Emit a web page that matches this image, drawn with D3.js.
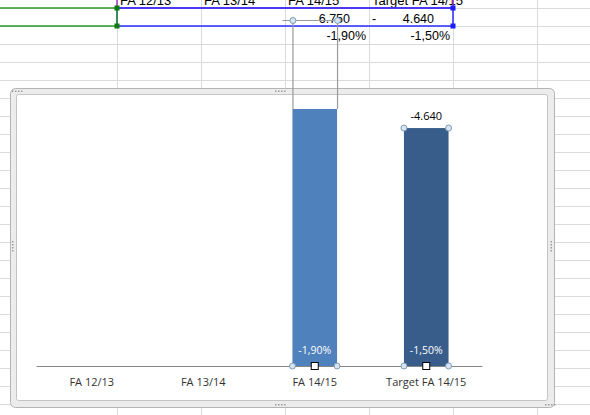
<!DOCTYPE html>
<html>
<head>
<meta charset="utf-8">
<script src="https://cdn.jsdelivr.net/npm/d3@7"></script>
<style>
  body { margin: 0; background: #fff; }
  svg { display: block; }
</style>
</head>
<body>
<script>
// chart data
var categories = ["FA 12/13", "FA 13/14", "FA 14/15", "Target FA 14/15"];
// plotted bar heights (first two columns are empty)
var barValues = [null, null, 6750, 6250];
// labels shown on the bars
var topLabels = ["", "", "", "-4.640"];
var pctLabels = ["", "", "-1,90%", "-1,50%"];
var barColors = ["#4F81BD", "#4F81BD", "#4F81BD", "#385D8A"];
// sheet cells behind the chart
var cellValues = ["", "", "6.750", "4.640"];
var cellPcts = ["", "", "-1,90%", "-1,50%"];

var width = 590, height = 415;

var svg = d3.select("body").append("svg")
    .attr("width", width)
    .attr("height", height);

// ---- spreadsheet grid ----
var colEdges = [117, 201, 285, 369, 453, 537];
var rowH = 18, rowTop = 8;
var grid = svg.append("g").attr("stroke", "#dadada").attr("stroke-width", 1);
for (var r = 0; rowTop + r * rowH < height; r++) {
    var yy = rowTop + r * rowH + 0.5;
    grid.append("line").attr("x1", 0).attr("x2", width).attr("y1", yy).attr("y2", yy);
}
colEdges.forEach(function (cx) {
    grid.append("line").attr("x1", cx + 0.5).attr("x2", cx + 0.5).attr("y1", 0).attr("y2", height);
});

// header row (scrolled so only its lower half shows)
var cellFont = "'Liberation Sans', Arial, sans-serif";
svg.append("g").selectAll("text")
    .data(categories)
    .enter().append("text")
    .attr("x", function (d, i) { return colEdges[i] + 3; })
    .attr("y", 5)
    .attr("font-family", cellFont)
    .attr("font-size", 13)
    .attr("fill", "#000")
    .text(function (d) { return d; });

// value row
svg.append("g").selectAll("text")
    .data(cellValues)
    .enter().append("text")
    .attr("x", function (d, i) { return colEdges[i + 1] - 19; })
    .attr("y", 23)
    .attr("text-anchor", "end")
    .attr("font-family", cellFont)
    .attr("font-size", 12.5)
    .text(function (d) { return d; });
svg.append("text")
    .attr("x", 372).attr("y", 23)
    .attr("font-family", cellFont).attr("font-size", 12.5)
    .text("-");

// percent row
svg.append("g").selectAll("text")
    .data(cellPcts)
    .enter().append("text")
    .attr("x", function (d, i) { return colEdges[i + 1] - 3; })
    .attr("y", 40)
    .attr("text-anchor", "end")
    .attr("font-family", cellFont)
    .attr("font-size", 12.5)
    .text(function (d) { return d; });

// range highlights
svg.append("rect").attr("x", 117).attr("y", -5).attr("width", 336).attr("height", 13)
    .attr("fill", "none").attr("stroke", "#9933cc").attr("stroke-width", 1.5);
svg.append("rect").attr("x", 117).attr("y", 8).attr("width", 336).attr("height", 18)
    .attr("fill", "none").attr("stroke", "#2b2bff").attr("stroke-width", 1.5);
svg.append("path").attr("d", "M0,8H117V26H0")
    .attr("fill", "none").attr("stroke", "#2e9b2e").attr("stroke-width", 1.5);
[[117, 8, "#0a7a0a"], [117, 26, "#0a7a0a"], [453, 8, "#1d1dff"], [453, 26, "#1d1dff"]].forEach(function (p) {
    svg.append("rect").attr("x", p[0] - 2.5).attr("y", p[1] - 2.5).attr("width", 5).attr("height", 5).attr("fill", p[2]);
});

// ---- chart frame ----
var frame = svg.append("g");
frame.append("rect").attr("x", 10.5).attr("y", 88.5).attr("width", 544).attr("height", 319).attr("rx", 5)
    .attr("fill", "#ececec").attr("stroke", "#b4b4b4");
frame.append("rect").attr("x", 16.5).attr("y", 94.5).attr("width", 531).attr("height", 306).attr("rx", 2)
    .attr("fill", "#fff").attr("stroke", "#c4c4c4");
// little grip dots
function dots(x, y, vertical) {
    for (var k = 0; k < 4; k++) {
        frame.append("rect")
            .attr("x", vertical ? x : x + k * 3).attr("y", vertical ? y + k * 3 : y)
            .attr("width", 1.5).attr("height", 1.5).attr("fill", "#9a9a9a");
    }
}
dots(275, 90.5, false);
dots(275, 404, false);
dots(12, 241, true);
dots(550.5, 241, true);
dots(12, 90.5, false);
dots(545, 404, false);

// ---- chart ----
var x = d3.scaleBand()
    .domain(categories)
    .range([36, 482])
    .paddingInner(0.6)
    .paddingOuter(0.3);

var y = d3.scaleLinear()
    .domain([0, 7000])
    .range([366, 99.5]);

var bars = categories.map(function (c, i) {
    return { cat: c, value: barValues[i], top: topLabels[i], pct: pctLabels[i], color: barColors[i] };
}).filter(function (d) { return d.value != null; });

var chart = svg.append("g");

// leader lines from the moved label up into the sheet
var first = bars[0];
var lx0 = x(first.cat), lx1 = x(first.cat) + x.bandwidth();
chart.append("path")
    .attr("d", "M" + (lx0 + 0.5) + "," + y(first.value) + "V20.5H" + (lx0 - 10) + "M" + (lx0 + 0.5) + ",20.5H" + (lx1 + 0.5) + "V" + y(first.value))
    .attr("fill", "none").attr("stroke", "#9a9a9a").attr("stroke-width", 1.2);
[lx0 + 0.5, lx1 + 0.5].forEach(function (cx) {
    chart.append("circle").attr("cx", cx).attr("cy", 20.5).attr("r", 3)
        .attr("fill", "#d8e4ef").attr("stroke", "#7f9db9");
});

chart.selectAll(".bar")
    .data(bars)
    .enter().append("rect")
    .attr("class", "bar")
    .attr("x", function (d) { return x(d.cat); })
    .attr("width", x.bandwidth())
    .attr("y", function (d) { return y(d.value); })
    .attr("height", function (d) { return y(0) - y(d.value); })
    .attr("fill", function (d) { return d.color; });

// axis
var axis = chart.append("g")
    .attr("transform", "translate(0," + y(0) + ")")
    .call(d3.axisBottom(x).tickSize(0).tickPadding(12));
axis.select(".domain").attr("stroke", "#868686");
axis.selectAll("text")
    .attr("font-family", "'Open Sans', 'Noto Sans', sans-serif")
    .attr("font-size", 11)
    .attr("fill", "#333");

var labelFont = "'Open Sans', 'Noto Sans', sans-serif";
chart.selectAll(".top-label")
    .data(bars)
    .enter().append("text")
    .attr("x", function (d) { return x(d.cat) + x.bandwidth() / 2; })
    .attr("y", function (d) { return y(d.value) - 8; })
    .attr("text-anchor", "middle")
    .attr("font-family", labelFont)
    .attr("font-size", 11)
    .attr("fill", "#000")
    .text(function (d) { return d.top; });

chart.selectAll(".pct-label")
    .data(bars)
    .enter().append("text")
    .attr("x", function (d) { return x(d.cat) + x.bandwidth() / 2; })
    .attr("y", y(0) - 12)
    .attr("text-anchor", "middle")
    .attr("font-family", labelFont)
    .attr("font-size", 10.5)
    .attr("fill", "#fff")
    .text(function (d) { return d.pct; });

// selection handles on the second bar and bottoms of both
var last = bars[1];
var hx0 = x(last.cat), hx1 = x(last.cat) + x.bandwidth();
[[hx0, y(last.value)], [hx1, y(last.value)], [hx0, y(0)], [hx1, y(0)], [lx0, y(0)], [lx1, y(0)]].forEach(function (p) {
    chart.append("circle").attr("cx", p[0]).attr("cy", p[1]).attr("r", 3)
        .attr("fill", "#d8e4ef").attr("stroke", "#7f9db9");
});
bars.forEach(function (d) {
    var cx = x(d.cat) + x.bandwidth() / 2;
    chart.append("rect").attr("x", cx - 3.5).attr("y", y(0) - 3.5).attr("width", 7).attr("height", 7)
        .attr("fill", "#fff").attr("stroke", "#000");
});
</script>
</body>
</html>
